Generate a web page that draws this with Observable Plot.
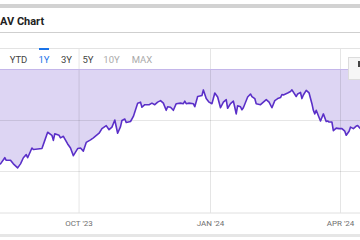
<!DOCTYPE html>
<html><head><meta charset="utf-8">
<script src="https://cdn.jsdelivr.net/npm/d3@7"></script>
<script src="https://cdn.jsdelivr.net/npm/@observablehq/plot@0.6"></script>
<style>
body{margin:0;width:360px;height:240px;overflow:hidden;position:relative;background:#fff;font-family:Roboto,sans-serif;}
.abs{position:absolute;}
.tab{position:absolute;top:54px;font-size:9.5px;color:#444;transform:translateX(-50%);white-space:nowrap;}
.tab.dis{color:#aaa}
.tab.on{color:#1a73e8}
</style></head><body>
<div class="abs" style="top:4px;left:0;width:360px;height:4px;background:#d2d2d2"></div>
<div class="abs" style="top:15px;left:0;font-size:11px;font-weight:bold;color:#222;white-space:nowrap">AV Chart</div>
<div class="abs" style="top:32px;left:0;width:360px;height:1px;background:#cfcfcf"></div>
<div id="chart" class="abs" style="top:48px;left:0"></div>
<div class="abs" style="top:48px;left:0;width:360px;height:1px;background:#e3e3e3"></div>
<div class="abs" style="top:48px;left:39px;width:10px;height:2px;background:#1a73e8"></div>
<div id="tabs"></div>
<div class="abs" style="top:57px;left:348px;width:20px;height:23px;background:#f6f6f6;border:1px solid #dcdcdc;box-sizing:border-box"><div style="position:absolute;left:9px;top:3px;width:3px;height:6px;background:#444"></div></div>
<div class="abs" style="top:234px;left:0;width:360px;height:3px;background:#e6e6e6"></div>
<script>
const tabLabels = ["YTD", "1Y", "3Y", "5Y", "10Y", "MAX"];
const tabState = ["", "on", "", "", "dis", "dis"];
const tabCenters = [18.5, 44, 66.5, 88, 111.5, 142];

const dates = ["2023-08-07","2023-08-10","2023-08-11","2023-08-14","2023-08-16","2023-08-19","2023-08-21","2023-08-23","2023-08-25","2023-08-26","2023-08-29","2023-08-30","2023-09-02","2023-09-05","2023-09-07","2023-09-09","2023-09-12","2023-09-13","2023-09-14","2023-09-17","2023-09-18","2023-09-20","2023-09-23","2023-09-25","2023-09-27","2023-09-30","2023-10-02","2023-10-04","2023-10-06","2023-10-09","2023-10-11","2023-10-15","2023-10-17","2023-10-20","2023-10-22","2023-10-24","2023-10-26","2023-10-28","2023-10-30","2023-10-31","2023-11-02","2023-11-03","2023-11-06","2023-11-08","2023-11-11","2023-11-13","2023-11-14","2023-11-16","2023-11-19","2023-11-21","2023-11-23","2023-11-25","2023-11-27","2023-11-29","2023-12-01","2023-12-02","2023-12-04","2023-12-06","2023-12-08","2023-12-11","2023-12-13","2023-12-14","2023-12-15","2023-12-17","2023-12-20","2023-12-21","2023-12-23","2023-12-26","2023-12-27","2023-12-29","2023-12-31","2024-01-02","2024-01-04","2024-01-06","2024-01-08","2024-01-10","2024-01-12","2024-01-13","2024-01-15","2024-01-17","2024-01-18","2024-01-19","2024-01-20","2024-01-22","2024-01-23","2024-01-24","2024-01-27","2024-01-29","2024-01-30","2024-02-01","2024-02-02","2024-02-05","2024-02-07","2024-02-09","2024-02-11","2024-02-13","2024-02-15","2024-02-17","2024-02-19","2024-02-20","2024-02-21","2024-02-24","2024-02-26","2024-02-27","2024-03-01","2024-03-02","2024-03-04","2024-03-05","2024-03-06","2024-03-08","2024-03-10","2024-03-12","2024-03-13","2024-03-14","2024-03-15","2024-03-17","2024-03-18","2024-03-20","2024-03-22","2024-03-23","2024-03-24","2024-03-26","2024-03-27","2024-03-29","2024-03-31","2024-04-02","2024-04-04","2024-04-05","2024-04-07","2024-04-08","2024-04-10","2024-04-12","2024-04-13","2024-04-15"];
const nav = [24.15,24.27,24.22,24.22,24.15,24.07,24.15,24.27,24.33,24.27,24.46,24.43,24.44,24.45,24.61,24.77,24.71,24.61,24.74,24.71,24.66,24.69,24.54,24.46,24.31,24.45,24.46,24.40,24.57,24.62,24.66,24.75,24.84,24.90,24.82,24.87,25.01,24.75,24.88,25.00,25.03,24.96,24.98,25.08,25.34,25.36,25.26,25.31,25.31,25.34,25.31,25.36,25.39,25.34,25.20,25.27,25.26,25.20,25.33,25.34,25.33,25.38,25.33,25.34,25.33,25.27,25.47,25.49,25.60,25.43,25.36,25.33,25.54,25.46,25.25,25.36,25.41,25.24,25.33,25.38,25.26,25.13,25.29,25.27,25.21,25.25,25.46,25.52,25.47,25.43,25.33,25.31,25.36,25.41,25.36,25.25,25.39,25.43,25.45,25.51,25.50,25.54,25.57,25.60,25.47,25.52,25.55,25.43,25.50,25.59,25.54,25.33,25.20,25.13,25.20,25.06,24.99,25.13,24.98,24.99,24.97,24.97,24.80,24.85,24.84,24.84,24.79,24.71,24.79,24.87,24.84,24.89,24.90,24.84];
const xTicks = ["2023-10-01", "2024-01-01", "2024-04-01"];
const xTickLabels = ["OCT '23", "JAN '24", "APR '24"];
const yGrid = [24, 25];
const yFillTop = 26;
const xDomain = ["2023-08-07", "2024-04-15"];
const yDomain = [23.176, 26.412];

const tabsEl = document.getElementById("tabs");
tabLabels.forEach((t, i) => {
  const d = document.createElement("div");
  d.className = "tab " + tabState[i];
  d.style.left = tabCenters[i] + "px";
  d.textContent = t;
  tabsEl.appendChild(d);
});

const parse = d3.utcParse("%Y-%m-%d");
const data = dates.map((d, i) => ({date: parse(d), v: nav[i]}));
const tickDates = xTicks.map(parse);
const fmt = new Map(tickDates.map((d, i) => [+d, xTickLabels[i]]));

const chart = Plot.plot({
  width: 360, height: 192,
  marginTop: 0, marginBottom: 27, marginLeft: 0, marginRight: 0,
  style: {fontFamily: "Roboto, sans-serif", fontSize: "8px", background: "transparent", overflow: "visible"},
  x: {type: "utc", domain: xDomain.map(parse)},
  y: {domain: yDomain, axis: null},
  marks: [
    Plot.areaY(data, {x: "date", y1: "v", y2: yFillTop, fill: "#ddd5f3", curve: "linear"}),
    Plot.ruleX(tickDates, {stroke: "#000", strokeOpacity: 0.1}),
    Plot.ruleY(yGrid, {stroke: "#000", strokeOpacity: 0.1}),
    Plot.ruleY([yFillTop], {stroke: "#c4b6ea"}),
    Plot.ruleY([yDomain[0]], {stroke: "#e0e0e0", dy: -0.5}),
    Plot.lineY(data, {x: "date", y: "v", stroke: "#5a2fc8", strokeWidth: 1.6}),
    Plot.axisX(tickDates, {tickSize: 0, tickPadding: 7, tickFormat: d => fmt.get(+d), fill: "#6f6f6f"})
  ]
});
document.getElementById("chart").appendChild(chart);
</script>
</body></html>
